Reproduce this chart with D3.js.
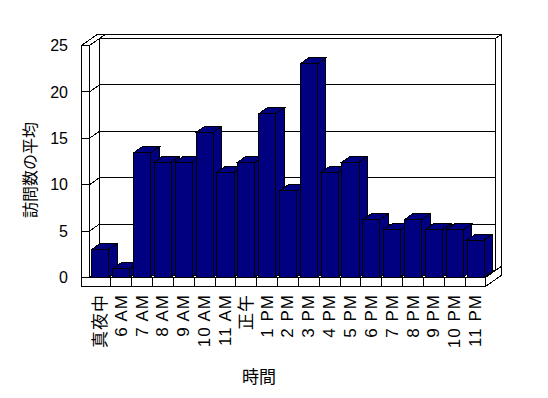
<!DOCTYPE html>
<html>
<head>
<meta charset="utf-8">
<script src="https://cdn.jsdelivr.net/npm/d3@7"></script>
<style>
body { margin: 0; background: #fff; }
text { font-family: "Liberation Sans", "Noto Sans CJK JP", sans-serif; fill: #000; }
polygon, line, polyline { shape-rendering: crispEdges; }
</style>
</head>
<body>
<svg id="chart" width="548" height="398"></svg>
<script>
var categories = ["真夜中", "6 AM", "7 AM", "8 AM", "9 AM", "10 AM", "11 AM", "正午",
                  "1 PM", "2 PM", "3 PM", "4 PM", "5 PM", "6 PM", "7 PM", "8 PM",
                  "9 PM", "10 PM", "11 PM"];
var visits = [3.0, 0.9, 13.4, 12.4, 12.4, 15.6, 11.3, 12.4,
              17.6, 9.3, 23.0, 11.3, 12.4, 6.2, 5.1, 6.2,
              5.1, 5.1, 4.0];
var yTicks = [0, 5, 10, 15, 20, 25];

var svg = d3.select("#chart");

var depth = [10, -7];   // screen shift for the full plot depth
var wallDepth = 1.6;    // back wall outer face
var wallW = 8, floorH = 9;
var barColor = "#000080";

var x = d3.scaleBand()
    .domain(categories)
    .range([89.5, 485.5])
    .paddingInner(0.18)
    .paddingOuter(0.09);

var y = d3.scaleLinear()
    .domain([0, 25])
    .range([277.5, 45.5]);

var x0 = x.range()[0], x1 = x.range()[1];
var yTop = y(25), yBase = y(0);

function p(px, py, z) { return [px + z * depth[0], py + z * depth[1]]; }
function pts(list) { return list.map(function(d){ return d[0] + "," + d[1]; }).join(" "); }

var frame = svg.append("g")
    .attr("fill", "#fff")
    .attr("stroke", "#000")
    .attr("stroke-width", 1);

function face(list) {
  frame.append("polygon").attr("points", pts(list));
}

// back wall
face([p(x0, yTop, 1), p(x1, yTop, 1), p(x1, yBase, 1), p(x0, yBase, 1)]);
face([p(x0, yTop, 1), p(x1, yTop, 1), p(x1, yTop, wallDepth), p(x0, yTop, wallDepth)]);
face([p(x1, yTop, 1), p(x1, yTop, wallDepth), p(x1, yBase, wallDepth), p(x1, yBase, 1)]);

// left wall
face([p(x0 - wallW, yTop, 0), p(x0, yTop, 0), p(x0, yTop, 1), p(x0, yTop, wallDepth), p(x0 - wallW, yTop, wallDepth)]);
face([p(x0, yTop, 0), p(x0, yTop, 1), p(x0, yBase, 1), p(x0, yBase, 0)]);
face([p(x0 - wallW, yTop, 0), p(x0, yTop, 0), p(x0, yBase + floorH, 0), p(x0 - wallW, yBase + floorH, 0)]);

// floor
face([p(x0, yBase, 0), p(x1, yBase, 0), p(x1, yBase, 1), p(x0, yBase, 1)]);
face([p(x1, yBase, 0), p(x1, yBase + floorH, 0), p(x1, yBase + floorH, wallDepth), p(x1, yBase, wallDepth)]);
face([p(x0 - wallW, yBase, 0), p(x1, yBase, 0), p(x1, yBase + floorH, 0), p(x0 - wallW, yBase + floorH, 0)]);

// gridlines
var grid = svg.append("g").attr("stroke", "#000").attr("fill", "none");
yTicks.forEach(function(v){
  if (v > 0 && v < 25) {
    grid.append("polyline")
        .attr("points", pts([p(x0, y(v), 0), p(x0, y(v), 1), p(x1, y(v), 1)]));
  }
  grid.append("line")
      .attr("x1", x0 - wallW).attr("x2", x0)
      .attr("y1", y(v)).attr("y2", y(v));
});

// floor dividers
var step = x.step(), gap = (step - x.bandwidth()) / 2;
categories.forEach(function(c, i){
  if (i == 0) return;
  var xb = Math.round(x(c) - gap) + 0.5;
  grid.append("line")
      .attr("x1", xb).attr("x2", xb)
      .attr("y1", yBase).attr("y2", yBase + floorH);
});

// bars
var z0 = 0.05, z1 = 0.9, bw = x.bandwidth();
var bars = svg.append("g")
    .attr("fill", barColor)
    .attr("stroke", "#000");

categories.forEach(function(c, i){
  var bx = x(c), top = y(visits[i]);
  bars.append("polygon")
      .attr("points", pts([p(bx + bw, top, z0), p(bx + bw, top, z1), p(bx + bw, yBase, z1), p(bx + bw, yBase, z0)]));
  bars.append("polygon")
      .attr("points", pts([p(bx, top, z0), p(bx + bw, top, z0), p(bx + bw, top, z1), p(bx, top, z1)]));
  bars.append("polygon")
      .attr("points", pts([p(bx, top, z0), p(bx + bw, top, z0), p(bx + bw, yBase, z0), p(bx, yBase, z0)]));
});

// y tick labels
svg.append("g").selectAll("text")
    .data(yTicks)
  .enter().append("text")
    .attr("x", 68)
    .attr("y", function(d){ return y(d); })
    .attr("dy", "0.35em")
    .attr("text-anchor", "end")
    .style("font-size", "16px")
    .text(function(d){ return d; });

// x tick labels
svg.append("g").selectAll("text")
    .data(categories)
  .enter().append("text")
    .attr("transform", function(d){ return "translate(" + (x(d) + bw / 2) + ",294) rotate(-90)"; })
    .attr("dy", "0.35em")
    .attr("text-anchor", "end")
    .style("font-size", "17px")
    .style("letter-spacing", "1px")
    .text(function(d){ return d; });

// axis titles
svg.append("text")
    .attr("x", 259)
    .attr("y", 377)
    .attr("dy", "0.35em")
    .attr("text-anchor", "middle")
    .style("font-size", "17px")
    .text("時間");

svg.append("text")
    .attr("transform", "translate(30,170) rotate(-90)")
    .attr("dy", "0.35em")
    .attr("text-anchor", "middle")
    .style("font-size", "16px")
    .text("訪問数の平均");
</script>
</body>
</html>
